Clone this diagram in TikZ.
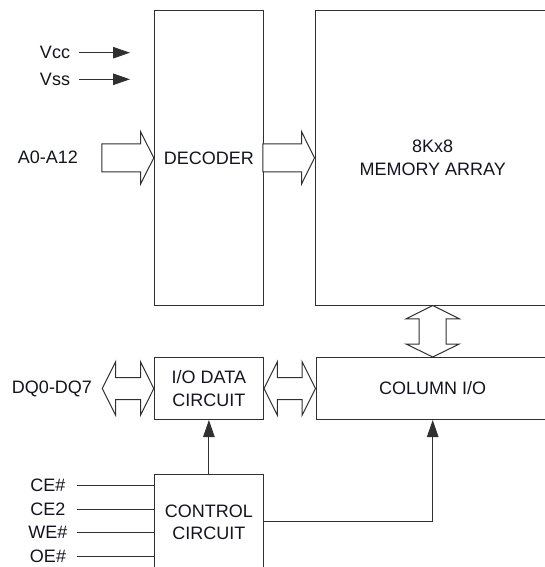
\documentclass[tikz,border=0pt]{standalone}
\usepackage{fontspec}
\setmainfont{Liberation Sans}
\usetikzlibrary{arrows.meta,calc}
\definecolor{ln}{HTML}{303030}
\definecolor{tx}{HTML}{141420}
\tikzset{
  box/.style={draw=ln, line width=1pt, rectangle, inner sep=0pt, align=center,
    font=\fontsize{18}{22.2}\selectfont, text=tx},
  lbl/.style={inner sep=0pt, font=\fontsize{18}{22}\selectfont, text=tx, anchor=center},
  sig/.style={draw=ln, line width=1pt},
  sigarr/.style={sig, -{Triangle[length=17pt,width=11.5pt]}},
  hollow/.style={draw=ln, line width=1pt, line join=miter, fill=white}
}
\begin{document}
\begin{tikzpicture}[x=1pt,y=-1pt]
\useasboundingbox (0,0) rectangle (545,567);
\clip (0,0) rectangle (545,567);
% blocks
\node[box, minimum width=109.2pt, minimum height=294.3pt] (dec) at (208.9,157.85) {DECODER};
\node[box, minimum width=235.4pt, minimum height=294.3pt] (mem) at (432.7,157.85) {8Kx8\\MEMORY ARRAY};
\node[box, minimum width=109.2pt, minimum height=62pt] (iod) at (208.9,388.5) {I/O DATA\\CIRCUIT};
\node[box, minimum width=233.4pt, minimum height=62pt] (col) at (432.7,388.5) {COLUMN I/O};
\node[box, minimum width=109.2pt, minimum height=96pt] (ctl) at (208.9,522) {CONTROL\\CIRCUIT};
% supply inputs
\node[lbl] (vcc) at (55,52.7) {Vcc};
\node[lbl] (vss) at (55,79.3) {Vss};
\coordinate (vccS) at (79,52.7); \coordinate (vccE) at (130,52.7);
\coordinate (vssS) at (79,79.3); \coordinate (vssE) at (130,79.3);
\draw[sigarr] (vccS) -- (vccE);
\draw[sigarr] (vssS) -- (vssE);
% address bus
\node[lbl] (adr) at (47.8,157) {A0-A12};
\draw[hollow] (dec.west) -- ++(-13.3,-26.3) -- ++(0,12.3) -- ++(-38.7,0) -- ++(0,28) -- ++(38.7,0) -- ++(0,12.3) -- cycle;
\draw[hollow] (mem.west) -- ++(-13,-26.3) -- ++(0,12.3) -- ++(-38.7,0) -- ++(0,28) -- ++(38.7,0) -- ++(0,12.3) -- cycle;
% data bus
\node[lbl] (dq) at (52,388.5) {DQ0-DQ7};
\coordinate (dqtip) at (102.3,388.5);
\newcommand\dblH[2]{%
  \path let \p1=(#1), \p2=(#2) in [hollow]
   (\p1) -- (\x1+13.3pt,\y1+26.7pt) -- (\x1+13.3pt,\y1+11pt) -- (\x2-13.3pt,\y1+11pt)
   -- (\x2-13.3pt,\y1+26.7pt) -- (\p2) -- (\x2-13.3pt,\y1-26.7pt) -- (\x2-13.3pt,\y1-11pt)
   -- (\x1+13.3pt,\y1-11pt) -- (\x1+13.3pt,\y1-26.7pt) -- cycle;}
\dblH{dqtip}{iod.west}
\dblH{iod.east}{col.west}
\path let \p1=(mem.south), \p2=(col.north) in [hollow]
   (\p1) -- (\x1+26.6pt,\y1-13.3pt) -- (\x1+13.5pt,\y1-13.3pt) -- (\x1+13.5pt,\y2+13pt)
   -- (\x1+26.6pt,\y2+13pt) -- (\p2) -- (\x1-26.6pt,\y2+13pt) -- (\x1-13.5pt,\y2+13pt)
   -- (\x1-13.5pt,\y1-13.3pt) -- (\x1-26.6pt,\y1-13.3pt) -- cycle;
% control signals
\node[lbl] (ce) at (48,485.7) {CE\#};
\node[lbl] (ce2) at (48,509.3) {CE2};
\node[lbl] (we) at (48,532.7) {WE\#};
\node[lbl] (oe) at (48,556.7) {OE\#};
\coordinate (ceS) at (76.7,485.7);
\coordinate (ce2S) at (76.7,509.3);
\coordinate (weS) at (76.7,532.7);
\coordinate (oeS) at (76.7,556.7);
\draw[sig] (ceS) -- (ceS -| ctl.west);
\draw[sig] (ce2S) -- (ce2S -| ctl.west);
\draw[sig] (weS) -- (weS -| ctl.west);
\draw[sig] (oeS) -- (oeS -| ctl.west);
\draw[sigarr] (ctl.north) -- (iod.south);
\coordinate (ctlR) at ($(ctl.east)+(0,-1)$);
\draw[sigarr] (ctlR) -| (col.south);
\end{tikzpicture}
\end{document}
